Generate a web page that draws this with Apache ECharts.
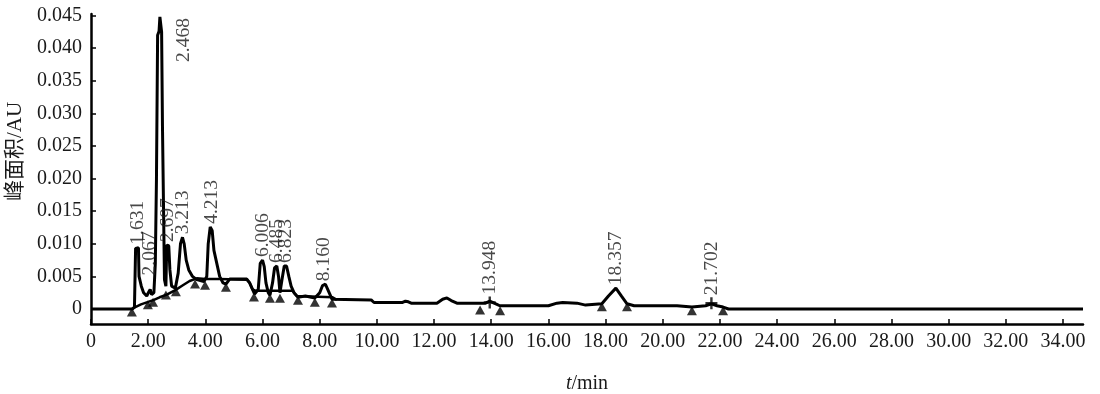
<!DOCTYPE html>
<html>
<head>
<meta charset="utf-8">
<script src="https://cdn.jsdelivr.net/npm/echarts@6/dist/echarts.min.js"></script>
<style>
html,body{margin:0;padding:0;background:#fff;}
#c{width:1100px;height:394px;}
</style>
</head>
<body>
<div id="c"></div>
<script>
// ---- data ----
const signalT = [0, 1.45, 1.52, 1.56, 1.66, 1.68, 1.76, 1.84, 1.95, 2.02, 2.07, 2.12, 2.20, 2.25, 2.29, 2.33, 2.38, 2.41, 2.47, 2.50, 2.55, 2.57, 2.62, 2.65, 2.72, 2.76, 2.82, 2.95, 3.05, 3.13, 3.20, 3.26, 3.33, 3.42, 3.55, 3.70, 3.95, 4.05, 4.10, 4.17, 4.24, 4.30, 4.40, 4.50, 4.62, 4.72, 4.85, 5.45, 5.55, 5.65, 5.72, 5.85, 5.92, 6.00, 6.06, 6.12, 6.20, 6.26, 6.35, 6.42, 6.50, 6.56, 6.61, 6.68, 6.76, 6.84, 6.92, 7.00, 7.10, 7.24, 7.50, 7.83, 8.00, 8.10, 8.20, 8.28, 8.43, 9.80, 9.90, 10.90, 11.00, 11.10, 11.20, 12.10, 12.30, 12.45, 12.60, 12.80, 13.80, 13.95, 14.10, 14.20, 14.30, 16.00, 16.30, 16.50, 17.00, 17.30, 17.87, 18.10, 18.36, 18.55, 18.75, 19.00, 20.50, 21.02, 21.50, 21.70, 21.90, 22.11, 22.30, 34.70];
const signalV = [0, 0, 0.0003, 0.0093, 0.0094, 0.0050, 0.0035, 0.0025, 0.0020, 0.0026, 0.0030, 0.0022, 0.0025, 0.0070, 0.0200, 0.0420, 0.0426, 0.0448, 0.0425, 0.0280, 0.0280, 0.0045, 0.0035, 0.0098, 0.0097, 0.0060, 0.0035, 0.0032, 0.0055, 0.0100, 0.0110, 0.0100, 0.0075, 0.0060, 0.0050, 0.0045, 0.0042, 0.0050, 0.0100, 0.0126, 0.0120, 0.0090, 0.0070, 0.0050, 0.0040, 0.0038, 0.0046, 0.0046, 0.0040, 0.0030, 0.0023, 0.0030, 0.0070, 0.0075, 0.0065, 0.0040, 0.0025, 0.0021, 0.0040, 0.0063, 0.0066, 0.0050, 0.0025, 0.0045, 0.0066, 0.0066, 0.0050, 0.0035, 0.0025, 0.0018, 0.0020, 0.0017, 0.0025, 0.0036, 0.0038, 0.0030, 0.0015, 0.0014, 0.0010, 0.0010, 0.0012, 0.0011, 0.0009, 0.0009, 0.0015, 0.0017, 0.0013, 0.0009, 0.0009, 0.0012, 0.0009, 0.0007, 0.0005, 0.0005, 0.0009, 0.0010, 0.0009, 0.0006, 0.0008, 0.0020, 0.0032, 0.0020, 0.0008, 0.0005, 0.0005, 0.0003, 0.0005, 0.0008, 0.0005, 0.0003, 0, 0];

const baseT = [1.43, 1.55, 1.75, 2.00, 2.20, 2.40, 2.65, 2.95, 3.20, 3.45, 3.70, 4.00, 4.50, 5.45, 5.55, 5.65, 5.75, 7.05, 7.20, 8.45, 8.60];
const baseV = [0.0000, 0.0003, 0.0007, 0.0011, 0.0014, 0.0018, 0.0022, 0.0029, 0.0036, 0.0043, 0.0047, 0.0046, 0.0046, 0.0045, 0.0040, 0.0030, 0.0028, 0.0028, 0.0020, 0.0018, 0.0014];

const triT = [1.43, 1.99, 2.17, 2.62, 2.97, 3.64, 3.99, 4.72, 5.70, 6.26, 6.61, 7.24, 7.83, 8.43, 13.61, 14.31, 17.87, 18.75, 21.02, 22.11];
const triV = [0.0000, 0.0011, 0.0015, 0.0026, 0.0031, 0.0043, 0.0041, 0.0038, 0.0023, 0.0021, 0.0021, 0.0018, 0.0015, 0.0014, 0.0003, 0.0002, 0.0008, 0.0008, 0.0002, 0.0002];

const crossT = [13.948, 21.702];
const crossV = [0.0010, 0.0009];

const peakT = [1.631, 2.067, 2.468, 2.697, 3.213, 4.213, 6.006, 6.485, 6.823, 8.160, 13.948, 18.357, 21.702];
const peakV = [0.0094, 0.0030, 0.0448, 0.0098, 0.0110, 0.0126, 0.0075, 0.0066, 0.0066, 0.0038, 0.0010, 0.0032, 0.0009];
const peakLabels = ['1.631', '2.067', '2.468', '2.697', '3.213', '4.213', '6.006', '6.485', '6.823', '8.160', '13.948', '18.357', '21.702'];

const xTicks = [0, 2, 4, 6, 8, 10, 12, 14, 16, 18, 20, 22, 24, 26, 28, 30, 32, 34];
const xTickLabels = ['0', '2.00', '4.00', '6.00', '8.00', '10.00', '12.00', '14.00', '16.00', '18.00', '20.00', '22.00', '24.00', '26.00', '28.00', '30.00', '32.00', '34.00'];
const yTicks = [0, 0.005, 0.010, 0.015, 0.020, 0.025, 0.030, 0.035, 0.040, 0.045];
const yTickLabels = ['0', '0.005', '0.010', '0.015', '0.020', '0.025', '0.030', '0.035', '0.040', '0.045'];

// ---- chart ----
const FONT = 'Liberation Serif';
const TXT = '#1a1a1a';
const zip = (a, b) => a.map((v, i) => [v, b[i]]);
const labelOffsets = { '2.468': [-48, 22], '2.067': [11, 0], '13.948': [5, 0], '21.702': [5, 0] };

const chart = echarts.init(document.getElementById('c'), null, { renderer: 'canvas' });
chart.setOption({
  animation: false,
  backgroundColor: '#fff',
  grid: { left: 91, right: 17, top: 14, bottom: 70, containLabel: false, outerBoundsMode: 'none' },
  xAxis: {
    type: 'value', min: 0, max: 34.7,
    name: '{i|t}/min', nameLocation: 'middle', nameGap: 50,
    nameTextStyle: { fontFamily: FONT, fontSize: 20, color: TXT,
      rich: { i: { fontFamily: FONT, fontStyle: 'italic', fontSize: 20, color: TXT } } },
    axisLine: { onZero: false, lineStyle: { color: '#000', width: 2.5 } },
    axisTick: { inside: true, length: 5, lineStyle: { color: '#000', width: 1.5 }, customValues: xTicks },
    axisLabel: { customValues: xTicks, fontFamily: FONT, fontSize: 20, color: TXT, margin: 8,
      formatter: v => xTickLabels[xTicks.indexOf(v)] },
    splitLine: { show: false }
  },
  yAxis: {
    type: 'value', min: -0.0023, max: 0.04525,
    name: '峰面积/AU', nameLocation: 'middle', nameGap: 64, nameRotate: 90,
    nameTextStyle: { fontFamily: 'Liberation Serif, Noto Sans CJK SC', fontSize: 21, color: TXT, padding: [0, 0, 0, 35] },
    axisLine: { lineStyle: { color: '#000', width: 2.5 } },
    axisTick: { inside: true, length: 5, lineStyle: { color: '#000', width: 1.5 }, customValues: yTicks },
    axisLabel: { customValues: yTicks, fontFamily: FONT, fontSize: 20, color: TXT, margin: 9,
      formatter: v => yTickLabels[yTicks.indexOf(v)] },
    splitLine: { show: false }
  },
  series: [
    { type: 'line', name: 'baseline', data: zip(baseT, baseV), symbol: 'none',
      lineStyle: { color: '#000', width: 2.5 }, z: 2 },
    { type: 'line', name: 'signal', data: zip(signalT, signalV), symbol: 'none',
      lineStyle: { color: '#000', width: 3 }, z: 3 },
    { type: 'scatter', name: 'marks', data: zip(triT, triV), symbol: 'triangle',
      symbolSize: [10, 9], symbolOffset: [0, 3], itemStyle: { color: '#000' }, z: 4 },
    { type: 'scatter', name: 'cross', data: zip(crossT, crossV),
      symbol: 'path://M4,0h2v4h4v2h-4v4h-2v-4h-4v-2h4z', symbolSize: [12, 12],
      itemStyle: { color: '#000' }, z: 4 },
    { type: 'scatter', name: 'peaks', symbolSize: 0, z: 5,
      data: peakT.map((t, i) => {
        const d = { value: [t, peakV[i]], name: peakLabels[i] };
        if (labelOffsets[peakLabels[i]]) d.label = { offset: labelOffsets[peakLabels[i]] };
        return d;
      }),
      label: { show: true, position: 'top', distance: 3, rotate: 90, align: 'left', verticalAlign: 'middle',
        formatter: p => p.name, fontFamily: FONT, fontSize: 19.5, color: TXT } }
  ]
});
</script>
</body>
</html>
